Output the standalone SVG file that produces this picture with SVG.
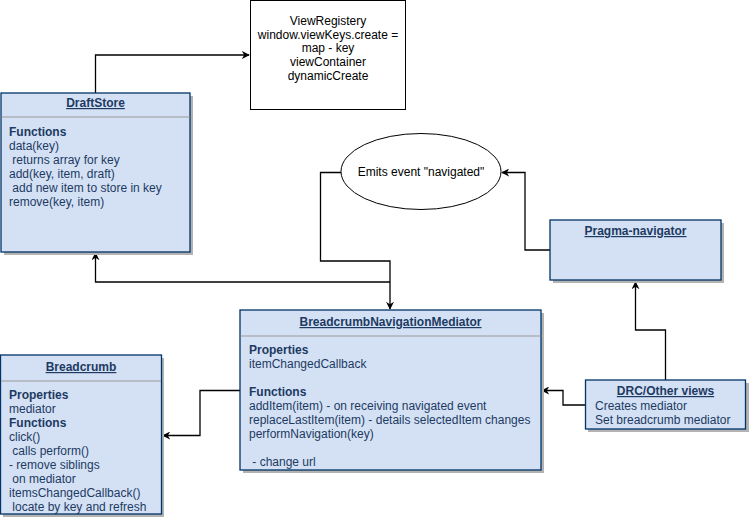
<svg xmlns="http://www.w3.org/2000/svg" width="749" height="519" viewBox="0 0 749 519">
<defs>
<marker id="arr" viewBox="0 0 10 10" refX="9" refY="5" markerWidth="8" markerHeight="8" markerUnits="userSpaceOnUse" orient="auto">
<path d="M0,0 L10,5 L0,10 L3,5 Z" fill="#000"/>
</marker>
</defs>
<style>
.box{fill:#D4E1F5;stroke:#003366;stroke-width:1.3}
.sh{fill:#B3B3B3}
.sep{stroke:#999999;stroke-width:1}
.t{font-family:"Liberation Sans",Arial,sans-serif;font-size:12px;fill:#1D3A62}
.ti{font-weight:bold;text-decoration:underline;text-anchor:middle}
.b{font-weight:bold}
.c{font-family:"Liberation Sans",Arial,sans-serif;font-size:12px;fill:#000;text-anchor:middle}
.ln{fill:none;stroke:#000;stroke-width:1.3}
</style>
<g id="connectors">
<path class="ln" d="M95.5,93 L95.5,55 L249,55" marker-end="url(#arr)"/>
<path class="ln" d="M341,172.5 L320.5,172.5 L320.5,261 L390,261 L390,309" marker-end="url(#arr)"/>
<path class="ln" d="M390,282 L95.5,282 L95.5,253" marker-end="url(#arr)"/>
<path class="ln" d="M550,250 L525,250 L525,172.5 L502,172.5" marker-end="url(#arr)"/>
<path class="ln" d="M665.5,380 L665.5,330 L635.5,330 L635.5,282" marker-end="url(#arr)"/>
<path class="ln" d="M585,405 L563,405 L563,390.5 L542,390.5" marker-end="url(#arr)"/>
<path class="ln" d="M240,390.5 L200,390.5 L200,435.5 L163,435.5" marker-end="url(#arr)"/>
</g>
<g id="viewregistery">
<rect x="250.5" y="0.5" width="155" height="109" fill="#fff" stroke="#000" stroke-width="1"/>
<text class="c" x="328" y="25">ViewRegistery</text>
<text class="c" x="328" y="39">window.viewKeys.create =</text>
<text class="c" x="328" y="52">map - key</text>
<text class="c" x="328" y="66">viewContainer</text>
<text class="c" x="328" y="80">dynamicCreate</text>
</g>
<g id="draftstore">
<rect class="sh" x="4" y="96" width="189" height="159"/>
<rect class="box" x="1" y="93" width="189" height="159"/>
<line class="sep" x1="1.5" y1="117" x2="189.5" y2="117"/>
<text class="t ti" x="95.5" y="107">DraftStore</text>
<text class="t b" x="9" y="136">Functions</text>
<text class="t" x="9" y="150">data(key)</text>
<text class="t" x="9" y="164" xml:space="preserve"> returns array for key</text>
<text class="t" x="9" y="178">add(key, item, draft)</text>
<text class="t" x="9" y="192" xml:space="preserve"> add new item to store in key</text>
<text class="t" x="9" y="206">remove(key, item)</text>
</g>
<g id="emits">
<ellipse cx="421" cy="171.5" rx="80" ry="38" fill="#fff" stroke="#000" stroke-width="1"/>
<text class="c" x="421" y="176">Emits event "navigated"</text>
</g>
<g id="pragma">
<rect class="sh" x="553" y="223" width="171" height="60"/>
<rect class="box" x="550" y="220" width="171" height="60"/>
<text class="t ti" x="635.5" y="235">Pragma-navigator</text>
</g>
<g id="mediator">
<rect class="sh" x="243" y="313" width="301" height="160"/>
<rect class="box" x="240" y="310" width="301" height="160"/>
<line class="sep" x1="240.5" y1="336" x2="540.5" y2="336"/>
<text class="t ti" x="390.5" y="326">BreadcrumbNavigationMediator</text>
<text class="t b" x="249" y="354">Properties</text>
<text class="t" x="249" y="368">itemChangedCallback</text>
<text class="t b" x="249" y="396">Functions</text>
<text class="t" x="249" y="410">addItem(item) - on receiving navigated event</text>
<text class="t" x="249" y="424">replaceLastItem(item) - details selectedItem changes</text>
<text class="t" x="249" y="438">performNavigation(key)</text>
<text class="t" x="249" y="466" xml:space="preserve"> - change url</text>
</g>
<g id="breadcrumb">
<rect class="sh" x="3" y="358" width="161" height="159"/>
<rect class="box" x="0.5" y="355" width="161" height="159"/>
<line class="sep" x1="1" y1="381" x2="161" y2="381"/>
<text class="t ti" x="81" y="371">Breadcrumb</text>
<text class="t b" x="9" y="399">Properties</text>
<text class="t" x="9" y="413">mediator</text>
<text class="t b" x="9" y="427">Functions</text>
<text class="t" x="9" y="441">click()</text>
<text class="t" x="9" y="455" xml:space="preserve"> calls perform()</text>
<text class="t" x="9" y="469">- remove siblings</text>
<text class="t" x="9" y="483" xml:space="preserve"> on mediator</text>
<text class="t" x="9" y="497">itemsChangedCallback()</text>
<text class="t" x="9" y="511" xml:space="preserve"> locate by key and refresh</text>
</g>
<g id="drc">
<rect class="sh" x="588" y="383" width="161" height="49"/>
<rect class="box" x="585.5" y="380" width="160" height="49"/>
<text class="t ti" x="665.5" y="395">DRC/Other views</text>
<text class="t" x="595" y="410">Creates mediator</text>
<text class="t" x="595" y="424">Set breadcrumb mediator</text>
</g>
</svg>
